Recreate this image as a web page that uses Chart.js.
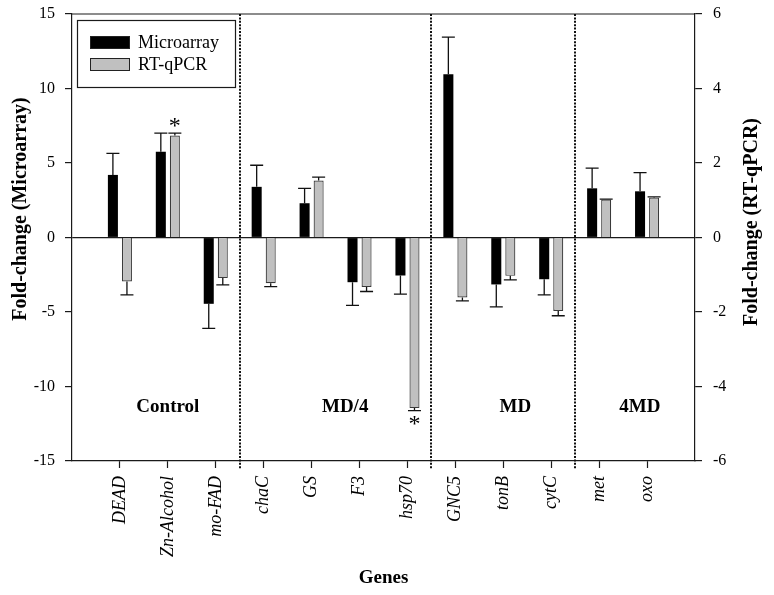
<!DOCTYPE html>
<html>
<head>
<meta charset="utf-8">
<script src="https://cdn.jsdelivr.net/npm/chart.js@4.4.1/dist/chart.umd.min.js"></script>
<style>
  html, body { margin: 0; padding: 0; background: #fff; }
  #wrap { width: 774px; height: 595px; position: relative; }
</style>
</head>
<body>
<div id="wrap"><canvas id="chart"></canvas></div>
<script>
// genes on the x axis (positions 1..12)
const genes = ['DEAD', 'Zn-Alcohol', 'mo-FAD', 'chaC', 'GS', 'F3', 'hsp70', 'GNC5', 'tonB', 'cytC', 'met', 'oxo'];

// fold-change values
const microarray    = [4.2, 5.75, -4.45, 3.4, 2.3, -3.0, -2.55, 10.95, -3.15, -2.8, 3.3, 3.1];
const microarrayErr = [1.45, 1.25, 1.65, 1.45, 1.0, 1.55, 1.25, 2.5, 1.5, 1.05, 1.35, 1.25];
const qpcr          = [-1.18, 2.74, -1.09, -1.23, 1.53, -1.33, -4.58, -1.61, -1.03, -1.97, 1.02, 1.07];
const qpcrErr       = [0.36, 0.06, 0.18, 0.09, 0.09, 0.12, 0.07, 0.09, 0.11, 0.13, 0.01, 0.02];
const starred       = [1, 6];            // RT-qPCR bars marked with *

// treatment groups
const groupNames = ['Control', 'MD/4', 'MD', '4MD'];
const groupPos   = [2.0, 5.7, 9.25, 11.85];
const separators = [3.5, 7.5, 10.5];

const leftTicks  = [-15, -10, -5, 0, 5, 10, 15];
const rightTicks = [-6, -4, -2, 0, 2, 4, 6];

const SERIF = '"Liberation Serif", "Times New Roman", serif';
Chart.defaults.font.family = SERIF;
Chart.defaults.color = '#000';

const AXIS = '#1a1a1a';

const overlay = {
  id: 'overlay',
  afterDatasetsDraw(chart) {
    const { ctx, chartArea: a, scales } = chart;
    const xs = scales.x, yL = scales.y, yR = scales.y1;
    ctx.save();

    // error bars, drawn outward only
    chart.data.datasets.forEach((ds, di) => {
      const ys = di === 0 ? yL : yR;
      chart.getDatasetMeta(di).data.forEach((bar, i) => {
        const v = ds.data[i].y, e = ds.errors[i];
        const s = v < 0 ? -1 : 1;
        const p0 = ys.getPixelForValue(v), p1 = ys.getPixelForValue(v + s * e);
        ctx.strokeStyle = '#111';
        ctx.lineWidth = 1.3;
        ctx.beginPath();
        ctx.moveTo(bar.x, p0); ctx.lineTo(bar.x, p1);
        ctx.moveTo(bar.x - 6.5, p1); ctx.lineTo(bar.x + 6.5, p1);
        ctx.stroke();
      });
    });

    // asterisks
    const meta1 = chart.getDatasetMeta(1);
    ctx.fillStyle = '#000';
    ctx.font = '24px ' + SERIF;
    ctx.textAlign = 'center';
    ctx.textBaseline = 'middle';
    starred.forEach(i => {
      const v = qpcr[i], s = v < 0 ? -1 : 1;
      const cap = yR.getPixelForValue(v + s * qpcrErr[i]);
      ctx.fillText('*', meta1.data[i].x, s > 0 ? cap - 6 : cap + 14);
    });

    // top frame line
    ctx.strokeStyle = AXIS;
    ctx.lineWidth = 1.2;
    ctx.beginPath();
    ctx.moveTo(a.left, a.top); ctx.lineTo(a.right, a.top);
    ctx.stroke();

    // dotted group separators
    ctx.strokeStyle = '#111';
    ctx.lineWidth = 2;
    ctx.setLineDash([2, 1.4]);
    separators.forEach(s => {
      const px = Math.round(xs.getPixelForValue(s));
      ctx.beginPath();
      ctx.moveTo(px, a.top); ctx.lineTo(px, a.bottom + 8);
      ctx.stroke();
    });
    ctx.setLineDash([]);

    // group labels
    ctx.font = 'bold 19px ' + SERIF;
    groupNames.forEach((g, i) => {
      ctx.fillText(g, xs.getPixelForValue(groupPos[i]), yL.getPixelForValue(-11.4));
    });

    // y axis titles
    ctx.font = 'bold 20px ' + SERIF;
    [['Fold-change (Microarray)', 21, 209], ['Fold-change (RT-qPCR)', 752, 222]].forEach(([t, tx, ty]) => {
      ctx.save();
      ctx.translate(tx, ty);
      ctx.rotate(-Math.PI / 2);
      ctx.fillText(t, 0, 0);
      ctx.restore();
    });

    // legend box
    ctx.lineWidth = 1.2;
    ctx.strokeStyle = AXIS;
    ctx.strokeRect(77.5, 20.5, 158, 67);
    ctx.textAlign = 'left';
    ctx.font = '18px ' + SERIF;
    chart.data.datasets.forEach((ds, di) => {
      const top = 36 + di * 22;
      ctx.fillStyle = ds.backgroundColor;
      ctx.fillRect(90, top, 40, 13);
      ctx.strokeStyle = '#222';
      ctx.lineWidth = 1;
      ctx.strokeRect(90.5, top + 0.5, 39, 12);
      ctx.fillStyle = '#000';
      ctx.fillText(ds.label, 138, top + 7);
    });

    ctx.restore();
  }
};

new Chart(document.getElementById('chart'), {
  type: 'bar',
  data: {
    datasets: [
      {
        label: 'Microarray',
        data: microarray.map((v, i) => ({ x: i + 1, y: v })),
        errors: microarrayErr,
        yAxisID: 'y',
        backgroundColor: '#000000',
        borderColor: '#000000',
        borderWidth: 0
      },
      {
        label: 'RT-qPCR',
        data: qpcr.map((v, i) => ({ x: i + 1, y: v })),
        errors: qpcrErr,
        yAxisID: 'y1',
        backgroundColor: '#c0c0c0',
        borderColor: '#3a3a3a',
        borderWidth: 1.2
      }
    ]
  },
  options: {
    responsive: true,
    maintainAspectRatio: false,
    animation: false,
    categoryPercentage: 0.586,
    barPercentage: 0.714,
    layout: { padding: { top: 14, left: 0, right: 0, bottom: 0 } },
    plugins: { legend: { display: false }, tooltip: { enabled: false } },
    scales: {
      x: {
        type: 'linear',
        min: 0,
        max: 13,
        offset: false,
        afterBuildTicks: s => { s.ticks = genes.map((g, i) => ({ value: i + 1 })); },
        afterFit: s => { s.height = 134; s.paddingLeft = 0; s.paddingRight = 0; },
        grid: { offset: false, drawOnChartArea: false, drawTicks: true, tickLength: 7, tickColor: AXIS, tickWidth: 1.2 },
        border: { display: true, color: AXIS, width: 1.2 },
        ticks: {
          autoSkip: false,
          minRotation: 90,
          maxRotation: 90,
          padding: 8,
          font: { size: 18, style: 'italic' },
          callback: v => genes[v - 1]
        },
        title: {
          display: true,
          text: 'Genes',
          font: { size: 19, weight: 'bold' },
          padding: { top: 0, bottom: 6 }
        }
      },
      y: {
        position: 'left',
        min: -15,
        max: 15,
        afterBuildTicks: s => { s.ticks = leftTicks.map(v => ({ value: v })); },
        afterFit: s => { s.width = 72; s.paddingTop = 0; s.paddingBottom = 0; },
        grid: {
          color: c => (c.tick && c.tick.value === 0 ? AXIS : 'rgba(0,0,0,0)'),
          lineWidth: 1.2,
          tickColor: AXIS,
          tickLength: 7
        },
        border: { display: true, color: AXIS, width: 1.2 },
        ticks: { padding: 10, font: { size: 16 } }
      },
      y1: {
        position: 'right',
        min: -6,
        max: 6,
        afterBuildTicks: s => { s.ticks = rightTicks.map(v => ({ value: v })); },
        afterFit: s => { s.width = 79; s.paddingTop = 0; s.paddingBottom = 0; },
        grid: { drawOnChartArea: false, tickColor: AXIS, tickLength: 7, lineWidth: 1.2 },
        border: { display: true, color: AXIS, width: 1.2 },
        ticks: { padding: 11, font: { size: 16 } }
      }
    }
  },
  plugins: [overlay]
});
</script>
</body>
</html>
